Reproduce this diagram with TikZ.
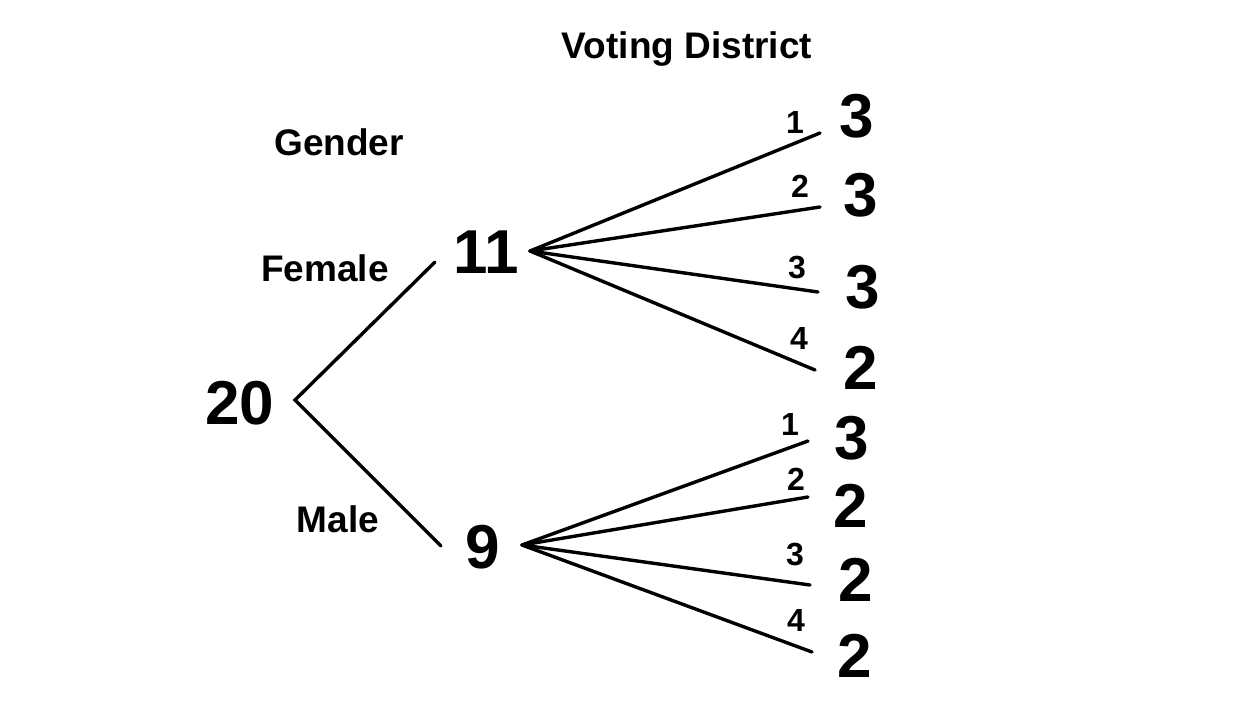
\documentclass[tikz,border=0pt]{standalone}
\usepackage{fontspec}
\setmainfont{Liberation Sans}
\begin{document}
\begin{tikzpicture}[x=1pt,y=-1pt,
  big/.style={font=\bfseries\fontsize{62}{62}\selectfont, inner sep=0pt, anchor=center},
  small/.style={font=\bfseries\fontsize{32}{32}\selectfont, inner sep=0pt, anchor=center},
  head/.style={font=\bfseries\fontsize{37}{37}\selectfont, inner sep=0pt, anchor=center},
  br/.style={line width=3.4pt, line cap=round}]
\useasboundingbox (0,0) rectangle (1249,720);
% headings
\node[head] (vd) at (687,49) {Voting District};
\node[head] (gen) at (339,142) {Gender};
\node[head] (fem) at (325,268) {Female};
\node[head] (mal) at (338,519) {Male};
% main nodes
\node[big] (n20) at (240,403) {20};
\node[big] (n11) at (486,252) {11};
\node[big] (n9) at (483,547) {9};
% connector points
\coordinate (r) at (295,400);
\coordinate (fe) at (435,262);
\coordinate (me) at (441,546);
\coordinate (fs) at (530,251);
\coordinate (ms) at (522,545);
\coordinate (f1) at (820,133);
\coordinate (f2) at (820,207);
\coordinate (f3) at (818,292);
\coordinate (f4) at (815,370);
\coordinate (m1) at (808,441);
\coordinate (m2) at (808,497);
\coordinate (m3) at (810,585);
\coordinate (m4) at (812,652);
\draw[br] (fe) -- (r) -- (me);
\foreach \t in {f1,f2,f3,f4} \draw[br] (fs) -- (\t);
\foreach \t in {m1,m2,m3,m4} \draw[br] (ms) -- (\t);
% leaf values
\node[big] (lf1) at (857,116) {3};
\node[big] (lf2) at (861,195) {3};
\node[big] (lf3) at (863,287) {3};
\node[big] (lf4) at (861,368) {2};
\node[big] (lm1) at (852,438) {3};
\node[big] (lm2) at (851,506) {2};
\node[big] (lm3) at (856,580) {2};
\node[big] (lm4) at (855,656) {2};
% branch labels
\node[small] (bf1) at (795,122) {1};
\node[small] (bf2) at (800,186) {2};
\node[small] (bf3) at (797,268) {3};
\node[small] (bf4) at (799,338) {4};
\node[small] (bm1) at (790,424) {1};
\node[small] (bm2) at (796,479) {2};
\node[small] (bm3) at (795,554) {3};
\node[small] (bm4) at (796,620) {4};
\end{tikzpicture}
\end{document}
